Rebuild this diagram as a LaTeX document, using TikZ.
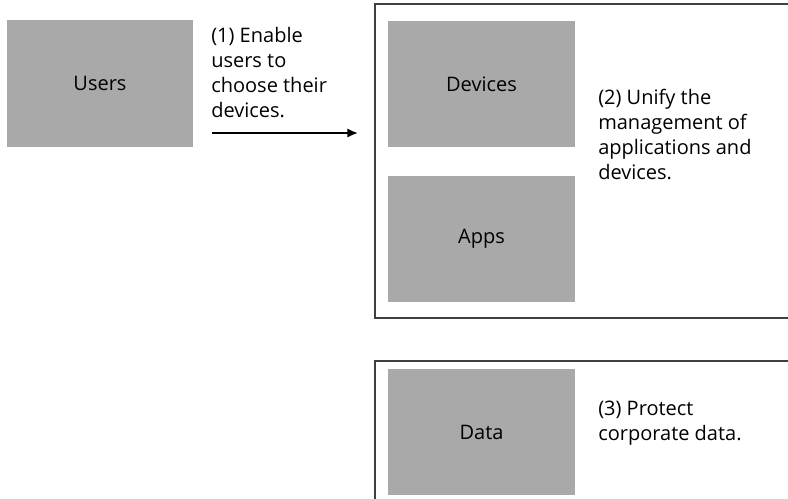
\documentclass[tikz,border=0pt]{standalone}
\usepackage{fontspec}
\setmainfont{Open Sans}
\usetikzlibrary{arrows.meta}
\definecolor{boxgray}{RGB}{169,169,169}
\definecolor{framegray}{RGB}{64,64,64}
\tikzset{
  itembox/.style={fill=boxgray, minimum width=140pt, minimum height=95pt, inner sep=0pt},
  framebox/.style={draw=framegray, line width=1.5pt},
  note/.style={anchor=base west, align=left, inner sep=0pt}
}
\begin{document}
\begin{tikzpicture}[x=0.75pt,y=-0.75pt,font=\fontsize{15pt}{18.75pt}\selectfont]
  \useasboundingbox (0,0) rectangle (788,499);
  \clip (0,0) rectangle (788,499);
  % frames
  \draw[framebox] (375,4) rectangle (810,318);
  \draw[framebox] (375,361) rectangle (810,530);
  % boxes
  \node[itembox] (users) at (100,83.5) {Users};
  \node[itembox] (devices) at (481.5,84) {Devices};
  \node[itembox] (apps) at (481.5,239) {Apps};
  \node[itembox] (data) at (481.5,432) {Data};
  % notes (base = last line)
  \node[note] (note1) at (211,118) {(1) Enable\\users to\\choose their\\devices.};
  \node[note] (note2) at (598,180) {(2) Unify the\\management of\\applications and\\devices.};
  \node[note] (note3) at (598,440) {(3) Protect\\corporate data.};
  % arrow
  \coordinate (arrS) at (212,133);
  \coordinate (arrE) at (358,133);
  \draw[line width=1.5pt, -{Latex[length=8pt,width=7pt]}] (arrS) -- (arrE);
\end{tikzpicture}
\end{document}
